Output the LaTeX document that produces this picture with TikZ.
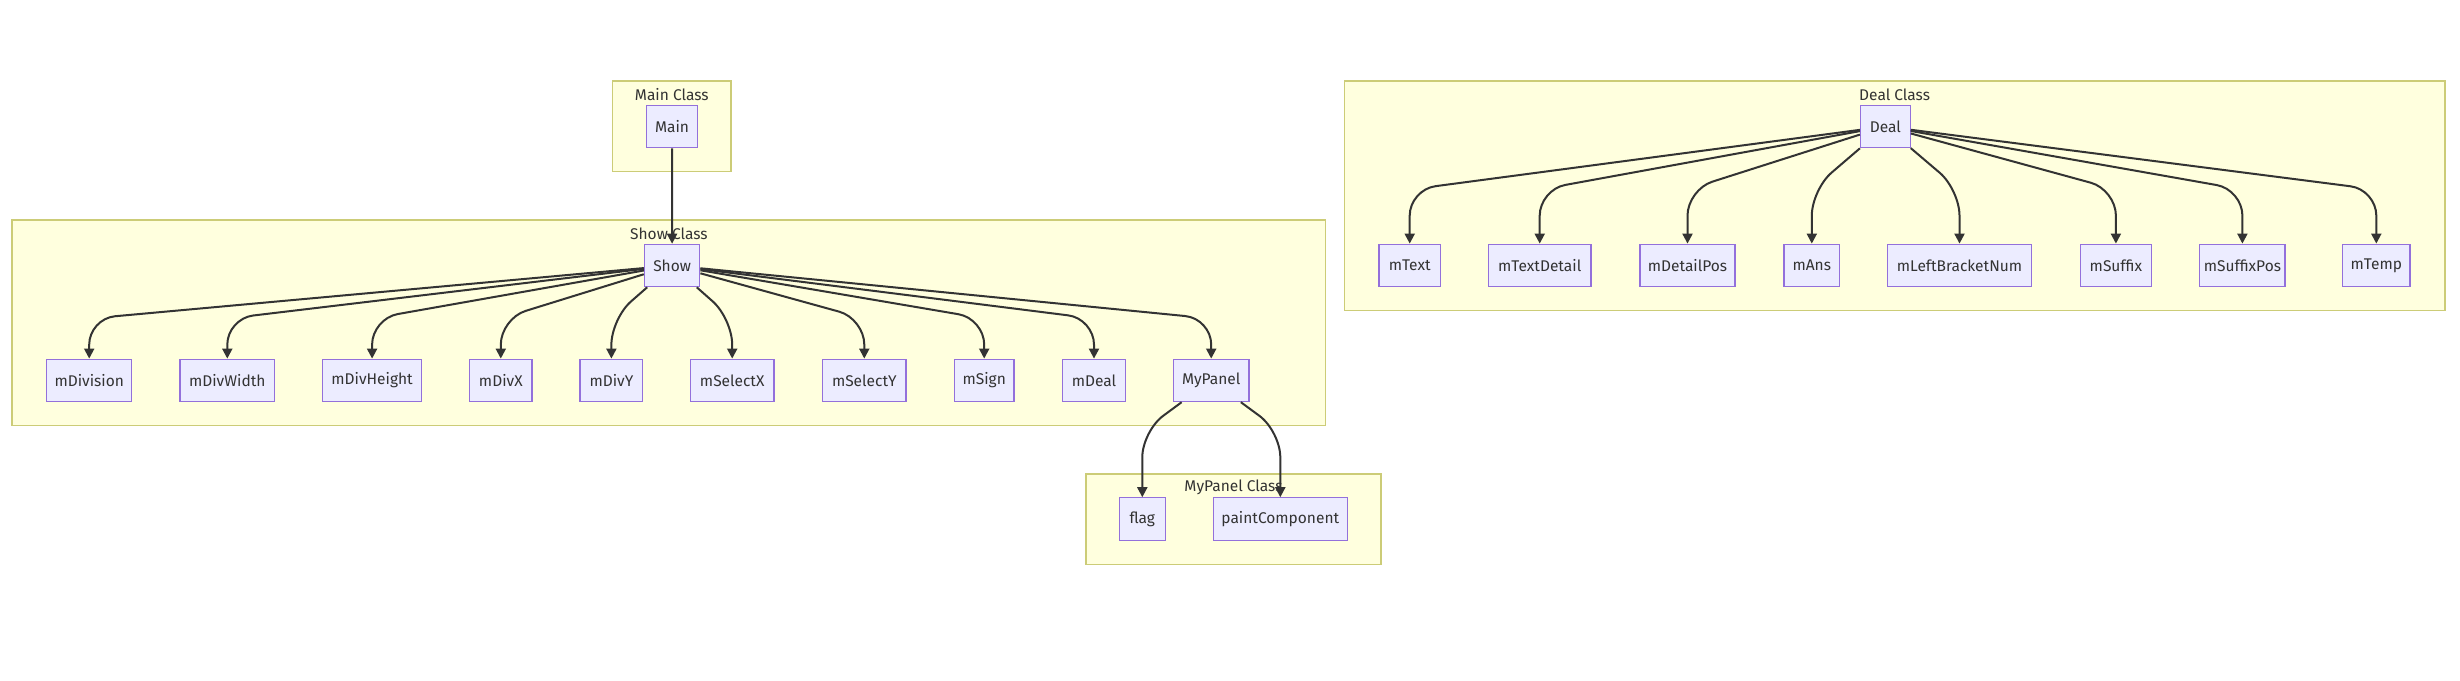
\documentclass[tikz,border=0pt]{standalone}
\usepackage{fontspec}
\setmainfont{Fira Sans}
\usetikzlibrary{arrows.meta}
\definecolor{clusterfill}{HTML}{FFFFDE}
\definecolor{clusterline}{HTML}{CCCC77}
\definecolor{boxfill}{HTML}{ECECFF}
\definecolor{boxline}{HTML}{9370DB}
\definecolor{linkline}{HTML}{333333}

\begin{document}
\begin{tikzpicture}[x=1pt, y=-1pt,
  every node/.style={font=\fontsize{15.5}{18}\selectfont, text=linkline},
  box/.style={draw=boxline, fill=boxfill, line width=1.2pt, minimum height=42.4pt, inner sep=0pt},
  cluster/.style={draw=clusterline, fill=clusterfill, line width=1.5pt},
  edge/.style={draw=linkline, line width=2pt, rounded corners=26pt, -{Triangle[length=10pt,width=10pt]}}]

\useasboundingbox (0,0) rectangle (2460,680) ;

\draw [cluster] (612.4,81) rectangle (731.2,171.7) ;
\draw [cluster] (12,220) rectangle (1325.7,425.7) ;
\draw [cluster] (1344.4,81) rectangle (2444.9,310.7) ;
\draw [cluster] (1086,474) rectangle (1381,564.3) ;

\node (mainlabel) at (671.8,95) {Main Class} ;
\node (showlabel) at (668.9,234) {Show Class} ;
\node (deallabel) at (1894.6,95) {Deal Class} ;
\node (panellabel) at (1233.5,487.7) {MyPanel Class} ;

\node [box, minimum width=51.3] (Main) at (672,126.5) {Main} ;
\node [box, minimum width=55.4] (Show) at (672.1,265.5) {Show} ;
\node [box, minimum width=49.7] (Deal) at (1885.3,126.5) {Deal} ;

\node [box, minimum width=85.3] (mDivision) at (89.2,380.4) {mDivision} ;
\node [box, minimum width=94.6] (mDivWidth) at (227.3,380.4) {mDivWidth} ;
\node [box, minimum width=98.8] (mDivHeight) at (372.1,380.4) {mDivHeight} ;
\node [box, minimum width=62.2] (mDivX) at (500.8,380.4) {mDivX} ;
\node [box, minimum width=62.8] (mDivY) at (611.4,380.4) {mDivY} ;
\node [box, minimum width=83.7] (mSelectX) at (732.2,380.4) {mSelectX} ;
\node [box, minimum width=83.5] (mSelectY) at (864.3,380.4) {mSelectY} ;
\node [box, minimum width=59.7] (mSign) at (984.2,380.4) {mSign} ;
\node [box, minimum width=62.9] (mDeal) at (1094,380.4) {mDeal} ;
\node [box, minimum width=75.7] (MyPanel) at (1211.2,380.4) {MyPanel} ;

\node [box, minimum width=46] (flag) at (1142.3,519) {flag} ;
\node [box, minimum width=134] (paintComponent) at (1280.3,519) {paintComponent} ;

\node [box, minimum width=61.3] (mText) at (1409.7,265.4) {mText} ;
\node [box, minimum width=102.4] (mTextDetail) at (1539.7,265.4) {mTextDetail} ;
\node [box, minimum width=95.1] (mDetailPos) at (1687.5,265.4) {mDetailPos} ;
\node [box, minimum width=55.5] (mAns) at (1811.8,265.4) {mAns} ;
\node [box, minimum width=143.4] (mLeftBracketNum) at (1959.5,265.4) {mLeftBracketNum} ;
\node [box, minimum width=71.4] (mSuffix) at (2115.9,265.4) {mSuffix} ;
\node [box, minimum width=85.1] (mSuffixPos) at (2242.4,265.4) {mSuffixPos} ;
\node [box, minimum width=67.5] (mTemp) at (2376.3,265.4) {mTemp} ;

\draw [edge] (Main) -- (Show) ;

\draw [edge] (Show) -- ([yshift=40]mDivision.north) -- (mDivision) ;
\draw [edge] (Show) -- ([yshift=40]mDivWidth.north) -- (mDivWidth) ;
\draw [edge] (Show) -- ([yshift=40]mDivHeight.north) -- (mDivHeight) ;
\draw [edge] (Show) -- ([yshift=40]mDivX.north) -- (mDivX) ;
\draw [edge] (Show) -- ([yshift=40]mDivY.north) -- (mDivY) ;
\draw [edge] (Show) -- ([yshift=40]mSelectX.north) -- (mSelectX) ;
\draw [edge] (Show) -- ([yshift=40]mSelectY.north) -- (mSelectY) ;
\draw [edge] (Show) -- ([yshift=40]mSign.north) -- (mSign) ;
\draw [edge] (Show) -- ([yshift=40]mDeal.north) -- (mDeal) ;
\draw [edge] (Show) -- ([yshift=40]MyPanel.north) -- (MyPanel) ;

\draw [edge] (MyPanel) -- ([yshift=66]flag.north) -- (flag) ;
\draw [edge] (MyPanel) -- ([yshift=66]paintComponent.north) -- (paintComponent) ;

\draw [edge] (Deal) -- ([yshift=54]mText.north) -- (mText) ;
\draw [edge] (Deal) -- ([yshift=54]mTextDetail.north) -- (mTextDetail) ;
\draw [edge] (Deal) -- ([yshift=54]mDetailPos.north) -- (mDetailPos) ;
\draw [edge] (Deal) -- ([yshift=54]mAns.north) -- (mAns) ;
\draw [edge] (Deal) -- ([yshift=54]mLeftBracketNum.north) -- (mLeftBracketNum) ;
\draw [edge] (Deal) -- ([yshift=54]mSuffix.north) -- (mSuffix) ;
\draw [edge] (Deal) -- ([yshift=54]mSuffixPos.north) -- (mSuffixPos) ;
\draw [edge] (Deal) -- ([yshift=54]mTemp.north) -- (mTemp) ;
\end{tikzpicture}
\end{document}
